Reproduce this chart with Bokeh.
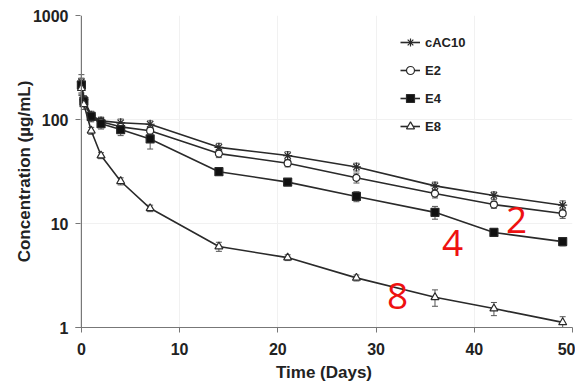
from bokeh.plotting import figure
from bokeh.models import (ColumnDataSource, Whisker, TeeHead, Legend, LegendItem,
                          Span, Label, FixedTicker)
from bokeh.embed import file_html
from bokeh.resources import INLINE

# ---- data ----
days = [0, 0.25, 1, 2, 4, 7, 14, 21, 28, 36, 42, 49]
cac10 = [230, 155, 110, 97, 93, 90, 54, 45, 35, 23, 18.6, 15]
cac10_err = [40, 15, 10, 8, 8, 7, 5, 4, 3, 2, 1.5, 1.5]
e2 = [210, 150, 105, 95, 85, 78, 47, 38, 27.5, 19.4, 15.2, 12.5]
e2_err = [35, 15, 10, 10, 7, 6, 4, 3, 3, 1.8, 1.2, 1.3]
e4 = [215, 150, 107, 91, 80, 65, 31.5, 25, 18.2, 12.8, 8.2, 6.7]
e4_err = [35, 15, 10, 10, 10, 13, 2, 1.5, 2, 1.8, 0.5, 0.6]
e8 = [200, 140, 78, 45, 25.5, 14, 6.0, 4.7, 3.0, 1.95, 1.52, 1.12]
e8_err = [30, 15, 6, 3, 2, 1, 0.6, 0.3, 0.2, 0.35, 0.22, 0.15]

series_names = ["cAC10", "E2", "E4", "E8"]
series_vals = [cac10, e2, e4, e8]
series_errs = [cac10_err, e2_err, e4_err, e8_err]

x_ticks = [0, 10, 20, 30, 40, 50]
y_ticks = [1, 10, 100, 1000]

annot_text = ["2", "4", "8"]
annot_x = [44.3, 37.8, 32.2]
annot_y = [10.7, 6.56, 2.03]

# ---- styling ----
markers = ["asterisk", "circle", "square", "triangle"]
fills = ["#222222", "white", "#111111", "white"]
msizes = [9, 7, 8, 8]
LINE = "#2a2a2a"
AXIS = "#777777"
FONT = "Liberation Sans"
TXT = "#222222"

p = figure(width=575, height=385, y_axis_type="log",
           x_range=(-0.6, 50), y_range=(1, 1000),
           output_backend="svg", toolbar_location=None,
           min_border_left=75, min_border_right=3,
           min_border_top=15, min_border_bottom=58)
p.outline_line_color = None
p.background_fill_color = "white"

p.xgrid.ticker = FixedTicker(ticks=x_ticks)
p.ygrid.ticker = FixedTicker(ticks=y_ticks)
p.xgrid.grid_line_color = "#f1f1f1"
p.ygrid.grid_line_color = "#f1f1f1"

# axes
p.xaxis.ticker = FixedTicker(ticks=x_ticks)
p.yaxis.ticker = FixedTicker(ticks=y_ticks, minor_ticks=[])
p.xaxis.axis_label = "Time (Days)"
p.yaxis.axis_label = "Concentration (µg/mL)"
for ax in (p.xaxis, p.yaxis):
    ax.axis_label_text_font = FONT
    ax.axis_label_text_font_style = "bold"
    ax.axis_label_text_font_size = "17px"
    ax.axis_label_text_color = TXT
    ax.major_label_text_font = FONT
    ax.major_label_text_font_style = "bold"
    ax.major_label_text_font_size = "16px"
    ax.major_label_text_color = TXT
    ax.minor_tick_line_color = None
    ax.major_tick_line_color = AXIS
    ax.axis_line_color = AXIS
p.xaxis.major_tick_in = 0
p.xaxis.major_tick_out = 5
p.xaxis.major_label_standoff = 10
p.xaxis.axis_label_standoff = 5
p.yaxis.major_tick_in = 5
p.yaxis.major_tick_out = 0
p.yaxis.major_label_standoff = 7
p.yaxis.axis_label_standoff = -4
p.yaxis.axis_line_color = None
p.yaxis.major_label_overrides = {1: "1", 10: "10", 100: "100", 1000: "1000"}

# y axis line at x = 0
p.add_layout(Span(location=0, dimension="height", line_color=AXIS, line_width=1.2))

items = []
for name, vals, errs, mk, fc, ms in zip(series_names, series_vals, series_errs,
                                        markers, fills, msizes):
    src = ColumnDataSource(dict(
        x=days, y=vals,
        lo=[v - e for v, e in zip(vals, errs)],
        hi=[v + e for v, e in zip(vals, errs)]))
    w = Whisker(source=src, base="x", upper="hi", lower="lo", dimension="height",
                line_color="#555555", line_width=1,
                upper_head=TeeHead(size=6, line_color="#555555", line_width=1),
                lower_head=TeeHead(size=6, line_color="#555555", line_width=1))
    p.add_layout(w)
    lr = p.line("x", "y", source=src, line_color=LINE, line_width=1.6)
    sr = p.scatter("x", "y", source=src, marker=mk, size=ms,
                   fill_color=fc, line_color=LINE, line_width=1.2)
    items.append(LegendItem(label=name, renderers=[lr, sr]))

legend = Legend(items=items, location=(325, 191),
                label_text_font=FONT, label_text_font_style="bold",
                label_text_font_size="13px", label_text_color=TXT,
                glyph_width=20, glyph_height=20, label_height=20,
                label_standoff=5, spacing=8, padding=0, margin=0,
                background_fill_alpha=0, border_line_color=None)
p.add_layout(legend)

for t, x, y in zip(annot_text, annot_x, annot_y):
    p.add_layout(Label(x=x, y=y, text=t, text_color="#ee1111",
                       text_font="Open Sans", text_font_size="37px",
                       text_align="center", text_baseline="middle"))

open("out.html", "w").write(file_html(p, INLINE))
